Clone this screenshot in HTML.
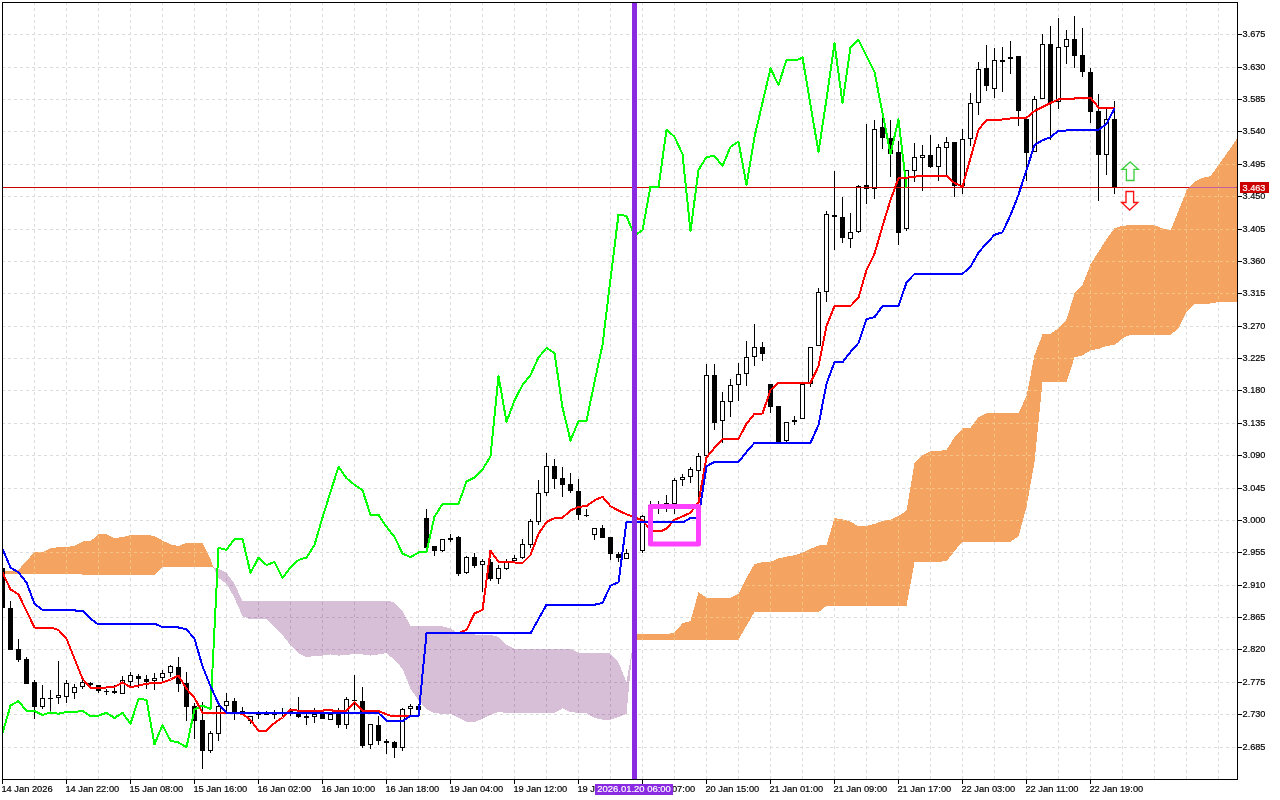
<!DOCTYPE html><html><head><meta charset="utf-8"><title>Chart</title>
<style>html,body{margin:0;padding:0;background:#fff;overflow:hidden}svg{display:block}text{font-family:"Liberation Sans",sans-serif;font-size:9.7px;fill:#000;stroke:#000;stroke-width:0.2px}</style></head><body>
<svg width="1280" height="800" viewBox="0 0 1280 800">
<rect width="1280" height="800" fill="#fff"/>
<defs>
<clipPath id="co"><polygon points="2.50,571.25 10.50,571.25 18.50,569.75 26.50,561.00 34.50,552.00 42.50,552.00 50.50,548.50 58.50,547.00 66.50,546.90 74.50,546.00 82.50,541.50 90.50,541.00 98.50,534.40 106.50,534.40 114.50,538.00 122.50,537.00 130.50,535.00 138.50,535.00 146.50,535.00 154.50,536.00 162.50,540.60 170.50,544.40 178.50,546.00 186.50,543.00 194.50,543.00 202.50,543.00 210.50,559.00 213.70,567.80 210.50,567.00 162.50,567.00 154.50,574.60 82.50,574.60 78.50,573.75 2.50,573.75"/><polygon points="632.70,646.50 634.50,633.50 670.50,633.50 674.50,632.20 682.50,623.40 690.50,621.00 698.50,592.25 706.50,597.90 714.50,597.90 722.50,597.90 730.50,597.90 738.50,594.00 746.50,577.80 754.50,564.00 762.50,562.25 770.50,561.90 778.50,558.50 786.50,556.60 794.50,555.30 802.50,552.90 810.50,548.75 818.50,545.50 826.50,545.30 834.50,518.00 842.50,519.40 850.50,521.60 858.50,526.40 866.50,525.90 874.50,524.00 882.50,521.00 890.50,519.60 898.50,516.00 906.50,510.50 914.50,463.25 922.50,455.40 930.50,451.00 938.50,451.00 946.50,449.75 954.50,437.40 962.50,428.40 970.50,427.70 978.50,417.00 986.50,413.30 1018.50,413.30 1026.50,396.00 1034.50,355.25 1042.50,334.30 1050.50,333.90 1058.50,328.25 1066.50,319.50 1074.50,293.50 1082.50,284.75 1090.50,264.50 1098.50,251.75 1106.50,239.00 1114.50,228.20 1122.50,225.80 1130.50,225.20 1154.50,225.20 1162.50,228.30 1170.50,230.50 1178.50,211.00 1186.50,190.50 1194.50,181.80 1202.50,177.75 1210.50,176.25 1218.50,165.00 1226.50,153.75 1234.50,142.50 1236.50,139.00 1236.50,302.00 1218.50,302.00 1210.50,303.50 1194.50,303.50 1186.50,311.75 1178.50,328.50 1170.50,334.60 1130.50,334.60 1122.50,338.40 1114.50,345.10 1106.50,345.80 1098.50,349.00 1090.50,350.30 1082.50,355.25 1074.50,357.50 1066.50,381.80 1042.50,382.25 1034.50,462.00 1026.50,507.00 1018.50,536.40 1010.50,541.60 962.50,541.60 954.50,550.90 946.50,561.40 914.50,562.25 906.50,605.60 826.50,605.80 818.50,612.10 754.50,612.10 746.50,625.60 738.50,639.70 634.50,639.70"/></clipPath>
<clipPath id="cp"><polygon points="213.70,567.80 218.50,568.75 226.50,573.00 234.50,583.75 242.50,601.25 390.50,601.25 394.50,602.50 402.50,611.25 410.50,626.00 442.50,626.40 450.50,628.50 458.50,633.40 466.50,634.00 474.50,634.50 482.50,634.80 490.50,635.00 498.50,637.00 506.50,644.70 514.50,649.00 570.50,649.00 578.50,652.75 610.50,653.50 618.50,662.50 626.50,682.00 632.70,646.50 626.50,714.00 618.50,716.90 610.50,719.70 602.50,719.70 594.50,717.80 586.50,713.50 578.50,713.00 570.50,712.00 562.50,708.40 554.50,713.00 506.50,713.00 498.50,712.00 490.50,715.00 482.50,718.75 474.50,722.00 466.50,722.00 458.50,717.60 450.50,713.90 442.50,713.75 434.50,713.25 426.50,709.00 418.50,700.00 410.50,688.75 402.50,668.75 394.50,660.00 386.50,653.00 378.50,654.40 370.50,655.60 362.50,654.40 354.50,653.75 346.50,655.00 338.50,655.60 330.50,654.40 322.50,655.60 314.50,656.00 306.50,657.25 298.50,653.00 290.50,645.00 282.50,635.00 274.50,627.00 266.50,619.40 258.50,619.40 250.50,619.40 242.50,616.25 234.50,598.00 226.50,583.75 218.50,578.00"/></clipPath>
<g id="grid" stroke-width="1" stroke-dasharray="3 3" shape-rendering="crispEdges"><line x1="2" x2="1237" y1="34.5" y2="34.5"/><line x1="2" x2="1237" y1="67.5" y2="67.5"/><line x1="2" x2="1237" y1="99.5" y2="99.5"/><line x1="2" x2="1237" y1="131.5" y2="131.5"/><line x1="2" x2="1237" y1="164.5" y2="164.5"/><line x1="2" x2="1237" y1="196.5" y2="196.5"/><line x1="2" x2="1237" y1="229.5" y2="229.5"/><line x1="2" x2="1237" y1="261.5" y2="261.5"/><line x1="2" x2="1237" y1="293.5" y2="293.5"/><line x1="2" x2="1237" y1="326.5" y2="326.5"/><line x1="2" x2="1237" y1="358.5" y2="358.5"/><line x1="2" x2="1237" y1="390.5" y2="390.5"/><line x1="2" x2="1237" y1="423.5" y2="423.5"/><line x1="2" x2="1237" y1="455.5" y2="455.5"/><line x1="2" x2="1237" y1="488.5" y2="488.5"/><line x1="2" x2="1237" y1="520.5" y2="520.5"/><line x1="2" x2="1237" y1="552.5" y2="552.5"/><line x1="2" x2="1237" y1="585.5" y2="585.5"/><line x1="2" x2="1237" y1="617.5" y2="617.5"/><line x1="2" x2="1237" y1="649.5" y2="649.5"/><line x1="2" x2="1237" y1="682.5" y2="682.5"/><line x1="2" x2="1237" y1="714.5" y2="714.5"/><line x1="2" x2="1237" y1="747.5" y2="747.5"/><line y1="2" y2="779" x1="34.5" x2="34.5"/><line y1="2" y2="779" x1="66.5" x2="66.5"/><line y1="2" y2="779" x1="98.5" x2="98.5"/><line y1="2" y2="779" x1="130.5" x2="130.5"/><line y1="2" y2="779" x1="162.5" x2="162.5"/><line y1="2" y2="779" x1="194.5" x2="194.5"/><line y1="2" y2="779" x1="226.5" x2="226.5"/><line y1="2" y2="779" x1="258.5" x2="258.5"/><line y1="2" y2="779" x1="290.5" x2="290.5"/><line y1="2" y2="779" x1="322.5" x2="322.5"/><line y1="2" y2="779" x1="354.5" x2="354.5"/><line y1="2" y2="779" x1="386.5" x2="386.5"/><line y1="2" y2="779" x1="418.5" x2="418.5"/><line y1="2" y2="779" x1="450.5" x2="450.5"/><line y1="2" y2="779" x1="482.5" x2="482.5"/><line y1="2" y2="779" x1="514.5" x2="514.5"/><line y1="2" y2="779" x1="546.5" x2="546.5"/><line y1="2" y2="779" x1="578.5" x2="578.5"/><line y1="2" y2="779" x1="610.5" x2="610.5"/><line y1="2" y2="779" x1="642.5" x2="642.5"/><line y1="2" y2="779" x1="674.5" x2="674.5"/><line y1="2" y2="779" x1="706.5" x2="706.5"/><line y1="2" y2="779" x1="738.5" x2="738.5"/><line y1="2" y2="779" x1="770.5" x2="770.5"/><line y1="2" y2="779" x1="802.5" x2="802.5"/><line y1="2" y2="779" x1="834.5" x2="834.5"/><line y1="2" y2="779" x1="866.5" x2="866.5"/><line y1="2" y2="779" x1="898.5" x2="898.5"/><line y1="2" y2="779" x1="930.5" x2="930.5"/><line y1="2" y2="779" x1="962.5" x2="962.5"/><line y1="2" y2="779" x1="994.5" x2="994.5"/><line y1="2" y2="779" x1="1026.5" x2="1026.5"/><line y1="2" y2="779" x1="1058.5" x2="1058.5"/><line y1="2" y2="779" x1="1090.5" x2="1090.5"/><line y1="2" y2="779" x1="1122.5" x2="1122.5"/><line y1="2" y2="779" x1="1154.5" x2="1154.5"/><line y1="2" y2="779" x1="1186.5" x2="1186.5"/><line y1="2" y2="779" x1="1218.5" x2="1218.5"/></g>
<clipPath id="cf"><rect x="3" y="3" width="1234" height="776"/></clipPath>
</defs>
<g clip-path="url(#cf)">
<use href="#grid" stroke="#dcdcdc"/>
<polygon points="2.50,571.25 10.50,571.25 18.50,569.75 26.50,561.00 34.50,552.00 42.50,552.00 50.50,548.50 58.50,547.00 66.50,546.90 74.50,546.00 82.50,541.50 90.50,541.00 98.50,534.40 106.50,534.40 114.50,538.00 122.50,537.00 130.50,535.00 138.50,535.00 146.50,535.00 154.50,536.00 162.50,540.60 170.50,544.40 178.50,546.00 186.50,543.00 194.50,543.00 202.50,543.00 210.50,559.00 213.70,567.80 210.50,567.00 162.50,567.00 154.50,574.60 82.50,574.60 78.50,573.75 2.50,573.75" fill="#f4a460" shape-rendering="crispEdges"/>
<polygon points="632.70,646.50 634.50,633.50 670.50,633.50 674.50,632.20 682.50,623.40 690.50,621.00 698.50,592.25 706.50,597.90 714.50,597.90 722.50,597.90 730.50,597.90 738.50,594.00 746.50,577.80 754.50,564.00 762.50,562.25 770.50,561.90 778.50,558.50 786.50,556.60 794.50,555.30 802.50,552.90 810.50,548.75 818.50,545.50 826.50,545.30 834.50,518.00 842.50,519.40 850.50,521.60 858.50,526.40 866.50,525.90 874.50,524.00 882.50,521.00 890.50,519.60 898.50,516.00 906.50,510.50 914.50,463.25 922.50,455.40 930.50,451.00 938.50,451.00 946.50,449.75 954.50,437.40 962.50,428.40 970.50,427.70 978.50,417.00 986.50,413.30 1018.50,413.30 1026.50,396.00 1034.50,355.25 1042.50,334.30 1050.50,333.90 1058.50,328.25 1066.50,319.50 1074.50,293.50 1082.50,284.75 1090.50,264.50 1098.50,251.75 1106.50,239.00 1114.50,228.20 1122.50,225.80 1130.50,225.20 1154.50,225.20 1162.50,228.30 1170.50,230.50 1178.50,211.00 1186.50,190.50 1194.50,181.80 1202.50,177.75 1210.50,176.25 1218.50,165.00 1226.50,153.75 1234.50,142.50 1236.50,139.00 1236.50,302.00 1218.50,302.00 1210.50,303.50 1194.50,303.50 1186.50,311.75 1178.50,328.50 1170.50,334.60 1130.50,334.60 1122.50,338.40 1114.50,345.10 1106.50,345.80 1098.50,349.00 1090.50,350.30 1082.50,355.25 1074.50,357.50 1066.50,381.80 1042.50,382.25 1034.50,462.00 1026.50,507.00 1018.50,536.40 1010.50,541.60 962.50,541.60 954.50,550.90 946.50,561.40 914.50,562.25 906.50,605.60 826.50,605.80 818.50,612.10 754.50,612.10 746.50,625.60 738.50,639.70 634.50,639.70" fill="#f4a460" shape-rendering="crispEdges"/>
<polygon points="213.70,567.80 218.50,568.75 226.50,573.00 234.50,583.75 242.50,601.25 390.50,601.25 394.50,602.50 402.50,611.25 410.50,626.00 442.50,626.40 450.50,628.50 458.50,633.40 466.50,634.00 474.50,634.50 482.50,634.80 490.50,635.00 498.50,637.00 506.50,644.70 514.50,649.00 570.50,649.00 578.50,652.75 610.50,653.50 618.50,662.50 626.50,682.00 632.70,646.50 626.50,714.00 618.50,716.90 610.50,719.70 602.50,719.70 594.50,717.80 586.50,713.50 578.50,713.00 570.50,712.00 562.50,708.40 554.50,713.00 506.50,713.00 498.50,712.00 490.50,715.00 482.50,718.75 474.50,722.00 466.50,722.00 458.50,717.60 450.50,713.90 442.50,713.75 434.50,713.25 426.50,709.00 418.50,700.00 410.50,688.75 402.50,668.75 394.50,660.00 386.50,653.00 378.50,654.40 370.50,655.60 362.50,654.40 354.50,653.75 346.50,655.00 338.50,655.60 330.50,654.40 322.50,655.60 314.50,656.00 306.50,657.25 298.50,653.00 290.50,645.00 282.50,635.00 274.50,627.00 266.50,619.40 258.50,619.40 250.50,619.40 242.50,616.25 234.50,598.00 226.50,583.75 218.50,578.00" fill="#d8bfd8" shape-rendering="crispEdges"/>
<g clip-path="url(#co)"><use href="#grid" stroke="#f3c486"/></g>
<g clip-path="url(#cp)"><use href="#grid" stroke="#bfa2c2"/></g>
<g fill="#000" shape-rendering="crispEdges"><rect x="2" y="568.00" width="1" height="40.00"/><rect x="0" y="568.00" width="5" height="40.00"/><rect x="10" y="601.00" width="1" height="49.00"/><rect x="8" y="608.00" width="5" height="42.00"/><rect x="18" y="639.00" width="1" height="23.00"/><rect x="16" y="649.00" width="5" height="11.00"/><rect x="26" y="657.00" width="1" height="27.00"/><rect x="24" y="659.00" width="5" height="25.00"/><rect x="34" y="680.00" width="1" height="39.00"/><rect x="32" y="682.00" width="5" height="25.00"/><rect x="42" y="685.00" width="1" height="24.00"/><rect x="40" y="698.00" width="5" height="9.00"/><rect x="41" y="699.00" width="3" height="7.00" fill="#fff"/><rect x="50" y="690.00" width="1" height="22.00"/><rect x="48" y="698" width="5" height="1"/><rect x="58" y="661.00" width="1" height="43.00"/><rect x="56" y="695.00" width="5" height="3.00"/><rect x="57" y="696.00" width="3" height="1.00" fill="#fff"/><rect x="66" y="680.00" width="1" height="23.00"/><rect x="64" y="683.00" width="5" height="14.00"/><rect x="65" y="684.00" width="3" height="12.00" fill="#fff"/><rect x="74" y="684.00" width="1" height="15.00"/><rect x="72" y="687.00" width="5" height="6.00"/><rect x="73" y="688.00" width="3" height="4.00" fill="#fff"/><rect x="82" y="680.00" width="1" height="9.00"/><rect x="80" y="682.00" width="5" height="5.00"/><rect x="81" y="683.00" width="3" height="3.00" fill="#fff"/><rect x="90" y="682.00" width="1" height="4.00"/><rect x="88" y="683.00" width="5" height="2.00"/><rect x="98" y="685.00" width="1" height="8.00"/><rect x="96" y="685.00" width="5" height="6.00"/><rect x="106" y="689.00" width="1" height="6.00"/><rect x="104" y="691" width="5" height="1"/><rect x="114" y="685.00" width="1" height="9.00"/><rect x="112" y="691.00" width="5" height="2.00"/><rect x="122" y="676.00" width="1" height="18.00"/><rect x="120" y="680.00" width="5" height="14.00"/><rect x="121" y="681.00" width="3" height="12.00" fill="#fff"/><rect x="130" y="672.00" width="1" height="16.00"/><rect x="128" y="675.00" width="5" height="7.00"/><rect x="129" y="676.00" width="3" height="5.00" fill="#fff"/><rect x="138" y="674.00" width="1" height="14.00"/><rect x="136" y="676.00" width="5" height="3.00"/><rect x="146" y="675.00" width="1" height="14.00"/><rect x="144" y="679.00" width="5" height="3.00"/><rect x="154" y="673.00" width="1" height="17.00"/><rect x="152" y="678.00" width="5" height="3.00"/><rect x="153" y="679.00" width="3" height="1.00" fill="#fff"/><rect x="162" y="670.00" width="1" height="11.00"/><rect x="160" y="673.00" width="5" height="5.00"/><rect x="161" y="674.00" width="3" height="3.00" fill="#fff"/><rect x="170" y="665.00" width="1" height="12.00"/><rect x="168" y="666.00" width="5" height="7.00"/><rect x="169" y="667.00" width="3" height="5.00" fill="#fff"/><rect x="178" y="657.00" width="1" height="35.00"/><rect x="176" y="667.00" width="5" height="17.00"/><rect x="186" y="672.00" width="1" height="49.00"/><rect x="184" y="683.00" width="5" height="24.00"/><rect x="194" y="703.00" width="1" height="36.00"/><rect x="192" y="706.00" width="5" height="15.00"/><rect x="202" y="702.00" width="1" height="67.00"/><rect x="200" y="720.00" width="5" height="31.00"/><rect x="210" y="731.00" width="1" height="22.00"/><rect x="208" y="733.00" width="5" height="18.00"/><rect x="209" y="734.00" width="3" height="16.00" fill="#fff"/><rect x="218" y="701.00" width="1" height="40.00"/><rect x="216" y="706.00" width="5" height="28.00"/><rect x="217" y="707.00" width="3" height="26.00" fill="#fff"/><rect x="226" y="693.00" width="1" height="20.00"/><rect x="224" y="701.00" width="5" height="5.00"/><rect x="225" y="702.00" width="3" height="3.00" fill="#fff"/><rect x="234" y="698.00" width="1" height="22.00"/><rect x="232" y="701.00" width="5" height="12.00"/><rect x="242" y="707.00" width="1" height="8.00"/><rect x="240" y="711.00" width="5" height="2.00"/><rect x="250" y="716.00" width="1" height="8.00"/><rect x="248" y="716.00" width="5" height="5.00"/><rect x="249" y="717.00" width="3" height="3.00" fill="#fff"/><rect x="258" y="711.00" width="1" height="8.00"/><rect x="256" y="713.00" width="5" height="2.00"/><rect x="266" y="711.00" width="1" height="4.00"/><rect x="264" y="713.00" width="5" height="2.00"/><rect x="274" y="710.00" width="1" height="9.00"/><rect x="272" y="713.00" width="5" height="2.00"/><rect x="282" y="708.00" width="1" height="8.00"/><rect x="280" y="712.00" width="5" height="2.00"/><rect x="290" y="708.00" width="1" height="8.00"/><rect x="288" y="711.00" width="5" height="3.00"/><rect x="289" y="712.00" width="3" height="1.00" fill="#fff"/><rect x="298" y="697.00" width="1" height="21.00"/><rect x="296" y="713.00" width="5" height="4.00"/><rect x="306" y="714.00" width="1" height="11.00"/><rect x="304" y="716.00" width="5" height="2.00"/><rect x="314" y="708.00" width="1" height="15.00"/><rect x="312" y="714.00" width="5" height="3.00"/><rect x="313" y="715.00" width="3" height="1.00" fill="#fff"/><rect x="322" y="714.00" width="1" height="5.00"/><rect x="320" y="714.00" width="5" height="5.00"/><rect x="330" y="714.00" width="1" height="6.00"/><rect x="328" y="714.00" width="5" height="6.00"/><rect x="329" y="715.00" width="3" height="4.00" fill="#fff"/><rect x="338" y="708.00" width="1" height="20.00"/><rect x="336" y="714.00" width="5" height="11.00"/><rect x="346" y="697.00" width="1" height="32.00"/><rect x="344" y="699.00" width="5" height="26.00"/><rect x="345" y="700.00" width="3" height="24.00" fill="#fff"/><rect x="354" y="675.00" width="1" height="35.00"/><rect x="352" y="700" width="5" height="1"/><rect x="362" y="687.00" width="1" height="61.00"/><rect x="360" y="701.00" width="5" height="45.00"/><rect x="370" y="724.00" width="1" height="25.00"/><rect x="368" y="724.00" width="5" height="21.00"/><rect x="369" y="725.00" width="3" height="19.00" fill="#fff"/><rect x="378" y="716.00" width="1" height="29.00"/><rect x="376" y="725.00" width="5" height="16.00"/><rect x="386" y="739.00" width="1" height="15.00"/><rect x="384" y="741.00" width="5" height="2.00"/><rect x="394" y="741.00" width="1" height="17.00"/><rect x="392" y="742.00" width="5" height="6.00"/><rect x="402" y="708.00" width="1" height="43.00"/><rect x="400" y="709.00" width="5" height="39.00"/><rect x="401" y="710.00" width="3" height="37.00" fill="#fff"/><rect x="410" y="704.00" width="1" height="12.00"/><rect x="408" y="706.00" width="5" height="3.00"/><rect x="409" y="707.00" width="3" height="1.00" fill="#fff"/><rect x="418" y="704.00" width="1" height="6.00"/><rect x="416" y="706.00" width="5" height="4.00"/><rect x="426" y="509.00" width="1" height="39.00"/><rect x="424" y="518.00" width="5" height="30.00"/><rect x="434" y="546.00" width="1" height="10.00"/><rect x="432" y="546.00" width="5" height="5.00"/><rect x="442" y="539.00" width="1" height="13.00"/><rect x="440" y="539.00" width="5" height="12.00"/><rect x="441" y="540.00" width="3" height="10.00" fill="#fff"/><rect x="450" y="534.00" width="1" height="8.00"/><rect x="448" y="538.00" width="5" height="2.00"/><rect x="458" y="536.00" width="1" height="40.00"/><rect x="456" y="537.00" width="5" height="37.00"/><rect x="466" y="556.00" width="1" height="18.00"/><rect x="464" y="557.00" width="5" height="16.00"/><rect x="465" y="558.00" width="3" height="14.00" fill="#fff"/><rect x="474" y="553.00" width="1" height="15.00"/><rect x="472" y="557.00" width="5" height="9.00"/><rect x="482" y="559.00" width="1" height="33.00"/><rect x="480" y="561.00" width="5" height="4.00"/><rect x="481" y="562.00" width="3" height="2.00" fill="#fff"/><rect x="490" y="559.00" width="1" height="22.00"/><rect x="488" y="562.00" width="5" height="17.00"/><rect x="498" y="565.00" width="1" height="19.00"/><rect x="496" y="568.00" width="5" height="11.00"/><rect x="497" y="569.00" width="3" height="9.00" fill="#fff"/><rect x="506" y="559.00" width="1" height="11.00"/><rect x="504" y="561.00" width="5" height="8.00"/><rect x="505" y="562.00" width="3" height="6.00" fill="#fff"/><rect x="514" y="555.00" width="1" height="6.00"/><rect x="512" y="558.00" width="5" height="3.00"/><rect x="513" y="559.00" width="3" height="1.00" fill="#fff"/><rect x="522" y="539.00" width="1" height="20.00"/><rect x="520" y="544.00" width="5" height="14.00"/><rect x="521" y="545.00" width="3" height="12.00" fill="#fff"/><rect x="530" y="519.00" width="1" height="29.00"/><rect x="528" y="521.00" width="5" height="24.00"/><rect x="529" y="522.00" width="3" height="22.00" fill="#fff"/><rect x="538" y="480.00" width="1" height="45.00"/><rect x="536" y="493.00" width="5" height="29.00"/><rect x="537" y="494.00" width="3" height="27.00" fill="#fff"/><rect x="546" y="453.00" width="1" height="43.00"/><rect x="544" y="466.00" width="5" height="27.00"/><rect x="545" y="467.00" width="3" height="25.00" fill="#fff"/><rect x="554" y="459.00" width="1" height="30.00"/><rect x="552" y="466.00" width="5" height="13.00"/><rect x="562" y="467.00" width="1" height="30.00"/><rect x="560" y="478.00" width="5" height="7.00"/><rect x="570" y="473.00" width="1" height="20.00"/><rect x="568" y="484.00" width="5" height="7.00"/><rect x="578" y="479.00" width="1" height="41.00"/><rect x="576" y="491.00" width="5" height="24.00"/><rect x="586" y="509.00" width="1" height="8.00"/><rect x="584" y="515" width="5" height="1"/><rect x="594" y="528.00" width="1" height="12.00"/><rect x="592" y="528.00" width="5" height="7.00"/><rect x="593" y="529.00" width="3" height="5.00" fill="#fff"/><rect x="602" y="525.00" width="1" height="13.00"/><rect x="600" y="528.00" width="5" height="10.00"/><rect x="610" y="537.00" width="1" height="23.00"/><rect x="608" y="537.00" width="5" height="17.00"/><rect x="618" y="552.00" width="1" height="10.00"/><rect x="616" y="554.00" width="5" height="4.00"/><rect x="626" y="549.00" width="1" height="10.00"/><rect x="624" y="553.00" width="5" height="6.00"/><rect x="625" y="554.00" width="3" height="4.00" fill="#fff"/><rect x="642" y="515.00" width="1" height="38.00"/><rect x="640" y="516.00" width="5" height="35.00"/><rect x="641" y="517.00" width="3" height="33.00" fill="#fff"/><rect x="650" y="501.00" width="1" height="7.00"/><rect x="648" y="505" width="5" height="1"/><rect x="658" y="501.00" width="1" height="13.00"/><rect x="656" y="504" width="5" height="1"/><rect x="666" y="495.00" width="1" height="17.00"/><rect x="664" y="503" width="5" height="1"/><rect x="674" y="478.00" width="1" height="36.00"/><rect x="672" y="480.00" width="5" height="24.00"/><rect x="673" y="481.00" width="3" height="22.00" fill="#fff"/><rect x="682" y="474.00" width="1" height="12.00"/><rect x="680" y="477.00" width="5" height="3.00"/><rect x="681" y="478.00" width="3" height="1.00" fill="#fff"/><rect x="690" y="467.00" width="1" height="16.00"/><rect x="688" y="469.00" width="5" height="8.00"/><rect x="689" y="470.00" width="3" height="6.00" fill="#fff"/><rect x="698" y="453.00" width="1" height="45.00"/><rect x="696" y="456.00" width="5" height="15.00"/><rect x="697" y="457.00" width="3" height="13.00" fill="#fff"/><rect x="706" y="364.00" width="1" height="93.00"/><rect x="704" y="375.00" width="5" height="81.00"/><rect x="705" y="376.00" width="3" height="79.00" fill="#fff"/><rect x="714" y="364.00" width="1" height="66.00"/><rect x="712" y="375.00" width="5" height="48.00"/><rect x="722" y="392.00" width="1" height="51.00"/><rect x="720" y="401.00" width="5" height="20.00"/><rect x="721" y="402.00" width="3" height="18.00" fill="#fff"/><rect x="730" y="379.00" width="1" height="38.00"/><rect x="728" y="385.00" width="5" height="17.00"/><rect x="729" y="386.00" width="3" height="15.00" fill="#fff"/><rect x="738" y="363.00" width="1" height="38.00"/><rect x="736" y="374.00" width="5" height="11.00"/><rect x="737" y="375.00" width="3" height="9.00" fill="#fff"/><rect x="746" y="341.00" width="1" height="45.00"/><rect x="744" y="357.00" width="5" height="17.00"/><rect x="745" y="358.00" width="3" height="15.00" fill="#fff"/><rect x="754" y="324.00" width="1" height="42.00"/><rect x="752" y="347.00" width="5" height="10.00"/><rect x="753" y="348.00" width="3" height="8.00" fill="#fff"/><rect x="762" y="342.00" width="1" height="19.00"/><rect x="760" y="347.00" width="5" height="7.00"/><rect x="770" y="384.00" width="1" height="29.00"/><rect x="768" y="384.00" width="5" height="23.00"/><rect x="778" y="406.00" width="1" height="37.00"/><rect x="776" y="406.00" width="5" height="37.00"/><rect x="786" y="422.00" width="1" height="20.00"/><rect x="784" y="422.00" width="5" height="19.00"/><rect x="785" y="423.00" width="3" height="17.00" fill="#fff"/><rect x="794" y="416.00" width="1" height="9.00"/><rect x="792" y="420.00" width="5" height="2.00"/><rect x="802" y="384.00" width="1" height="35.00"/><rect x="800" y="384.00" width="5" height="35.00"/><rect x="801" y="385.00" width="3" height="33.00" fill="#fff"/><rect x="810" y="347.00" width="1" height="40.00"/><rect x="808" y="347.00" width="5" height="37.00"/><rect x="809" y="348.00" width="3" height="35.00" fill="#fff"/><rect x="818" y="288.00" width="1" height="58.00"/><rect x="816" y="292.00" width="5" height="54.00"/><rect x="817" y="293.00" width="3" height="52.00" fill="#fff"/><rect x="826" y="211.00" width="1" height="91.00"/><rect x="824" y="214.00" width="5" height="78.00"/><rect x="825" y="215.00" width="3" height="76.00" fill="#fff"/><rect x="834" y="171.00" width="1" height="79.00"/><rect x="832" y="215.00" width="5" height="2.00"/><rect x="842" y="197.00" width="1" height="46.00"/><rect x="840" y="217.00" width="5" height="21.00"/><rect x="850" y="213.00" width="1" height="35.00"/><rect x="848" y="232.00" width="5" height="7.00"/><rect x="849" y="233.00" width="3" height="5.00" fill="#fff"/><rect x="858" y="185.00" width="1" height="48.00"/><rect x="856" y="186.00" width="5" height="46.00"/><rect x="857" y="187.00" width="3" height="44.00" fill="#fff"/><rect x="866" y="124.00" width="1" height="80.00"/><rect x="864" y="185.00" width="5" height="4.00"/><rect x="874" y="120.00" width="1" height="79.00"/><rect x="872" y="129.00" width="5" height="60.00"/><rect x="873" y="130.00" width="3" height="58.00" fill="#fff"/><rect x="882" y="117.00" width="1" height="32.00"/><rect x="880" y="127.00" width="5" height="11.00"/><rect x="890" y="120.00" width="1" height="57.00"/><rect x="888" y="138.00" width="5" height="16.00"/><rect x="898" y="141.00" width="1" height="104.00"/><rect x="896" y="152.00" width="5" height="81.00"/><rect x="906" y="170.00" width="1" height="61.00"/><rect x="904" y="170.00" width="5" height="59.00"/><rect x="905" y="171.00" width="3" height="57.00" fill="#fff"/><rect x="914" y="143.00" width="1" height="39.00"/><rect x="912" y="157.00" width="5" height="14.00"/><rect x="913" y="158.00" width="3" height="12.00" fill="#fff"/><rect x="922" y="145.00" width="1" height="46.00"/><rect x="920" y="155.00" width="5" height="3.00"/><rect x="921" y="156.00" width="3" height="1.00" fill="#fff"/><rect x="930" y="135.00" width="1" height="33.00"/><rect x="928" y="155.00" width="5" height="12.00"/><rect x="938" y="144.00" width="1" height="37.00"/><rect x="936" y="147.00" width="5" height="20.00"/><rect x="937" y="148.00" width="3" height="18.00" fill="#fff"/><rect x="946" y="137.00" width="1" height="39.00"/><rect x="944" y="142.00" width="5" height="6.00"/><rect x="945" y="143.00" width="3" height="4.00" fill="#fff"/><rect x="954" y="142.00" width="1" height="55.00"/><rect x="952" y="142.00" width="5" height="44.00"/><rect x="962" y="129.00" width="1" height="65.00"/><rect x="960" y="139.00" width="5" height="47.00"/><rect x="961" y="140.00" width="3" height="45.00" fill="#fff"/><rect x="970" y="93.00" width="1" height="53.00"/><rect x="968" y="103.00" width="5" height="36.00"/><rect x="969" y="104.00" width="3" height="34.00" fill="#fff"/><rect x="978" y="62.00" width="1" height="53.00"/><rect x="976" y="69.00" width="5" height="34.00"/><rect x="977" y="70.00" width="3" height="32.00" fill="#fff"/><rect x="986" y="45.00" width="1" height="46.00"/><rect x="984" y="68.00" width="5" height="18.00"/><rect x="994" y="48.00" width="1" height="50.00"/><rect x="992" y="60.00" width="5" height="29.00"/><rect x="993" y="61.00" width="3" height="27.00" fill="#fff"/><rect x="1002" y="47.00" width="1" height="45.00"/><rect x="1000" y="60.00" width="5" height="2.00"/><rect x="1010" y="41.00" width="1" height="33.00"/><rect x="1008" y="57.00" width="5" height="2.00"/><rect x="1018" y="56.00" width="1" height="70.00"/><rect x="1016" y="56.00" width="5" height="55.00"/><rect x="1026" y="119.00" width="1" height="62.00"/><rect x="1024" y="119.00" width="5" height="34.00"/><rect x="1034" y="96.00" width="1" height="56.00"/><rect x="1032" y="99.00" width="5" height="53.00"/><rect x="1033" y="100.00" width="3" height="51.00" fill="#fff"/><rect x="1042" y="34.00" width="1" height="65.00"/><rect x="1040" y="44.00" width="5" height="55.00"/><rect x="1041" y="45.00" width="3" height="53.00" fill="#fff"/><rect x="1050" y="26.00" width="1" height="114.00"/><rect x="1048" y="44.00" width="5" height="59.00"/><rect x="1058" y="18.00" width="1" height="91.00"/><rect x="1056" y="47.00" width="5" height="55.00"/><rect x="1057" y="48.00" width="3" height="53.00" fill="#fff"/><rect x="1066" y="30.00" width="1" height="34.00"/><rect x="1064" y="39.00" width="5" height="8.00"/><rect x="1065" y="40.00" width="3" height="6.00" fill="#fff"/><rect x="1074" y="16.00" width="1" height="52.00"/><rect x="1072" y="39.00" width="5" height="17.00"/><rect x="1082" y="28.00" width="1" height="49.00"/><rect x="1080" y="55.00" width="5" height="17.00"/><rect x="1090" y="68.00" width="1" height="55.00"/><rect x="1088" y="72.00" width="5" height="40.00"/><rect x="1098" y="94.00" width="1" height="107.00"/><rect x="1096" y="111.00" width="5" height="44.00"/><rect x="1106" y="109.00" width="1" height="66.00"/><rect x="1104" y="119.00" width="5" height="36.00"/><rect x="1105" y="120.00" width="3" height="34.00" fill="#fff"/><rect x="1114" y="101.00" width="1" height="93.00"/><rect x="1112" y="119.00" width="5" height="69.00"/></g>
<line x1="3" x2="1237" y1="187.5" y2="187.5" stroke="#cc0000" stroke-width="1" shape-rendering="crispEdges"/>
<g clip-path="url(#co)"><line x1="3" x2="1237" y1="187.5" y2="187.5" stroke="#c060a0" stroke-width="1" shape-rendering="crispEdges"/></g>
<polyline points="2.50,733.00 10.50,705.60 18.50,701.00 26.50,711.00 34.50,711.00 42.50,715.00 50.50,712.50 58.50,713.75 66.50,712.00 74.50,712.00 82.50,711.00 90.50,716.00 98.50,715.60 106.50,712.75 114.50,718.00 122.50,712.75 130.50,723.75 138.50,699.00 146.50,699.75 154.50,744.40 162.50,725.00 170.50,740.60 178.50,742.50 186.50,747.25 194.50,709.40 202.50,705.60 210.50,709.00 218.50,548.00 226.50,549.75 234.50,539.00 242.50,539.00 250.50,573.00 258.50,557.75 266.50,565.00 274.50,562.00 282.50,578.00 290.50,567.50 298.50,560.00 306.50,557.50 314.50,545.00 322.50,517.50 330.50,492.00 338.50,466.80 346.50,478.20 354.50,484.80 362.50,490.20 370.50,514.80 378.50,514.80 386.50,526.80 394.50,537.00 402.50,553.50 410.50,557.25 418.50,552.50 426.50,552.00 434.50,516.50 442.50,504.00 450.50,504.00 458.50,504.00 466.50,481.50 474.50,477.40 482.50,469.50 490.50,456.40 498.50,375.90 506.50,421.90 514.50,400.40 522.50,385.00 530.50,375.00 538.50,357.50 546.50,347.90 554.50,353.00 562.50,407.40 570.50,440.60 578.50,420.90 586.50,420.90 594.50,382.00 602.50,345.00 610.50,279.00 618.50,214.60 626.50,216.00 634.50,235.60 642.50,230.20 650.50,186.60 658.50,187.50 666.50,129.75 674.50,136.75 682.50,154.25 690.50,231.25 698.50,170.00 706.50,156.90 714.50,156.00 722.50,166.00 730.50,146.90 738.50,141.60 746.50,184.90 754.50,137.00 762.50,102.60 770.50,68.50 778.50,85.00 786.50,60.00 797.50,59.80 802.50,57.50 810.50,105.00 818.50,152.00 826.50,99.00 834.50,43.50 842.50,103.00 850.50,47.50 858.50,39.75 866.50,56.00 874.50,72.00 882.50,113.00 890.50,153.75 898.50,119.50 906.50,187.50" fill="none" stroke="#00ff00" stroke-width="2" stroke-linejoin="round" shape-rendering="crispEdges"/>
<polyline points="2.50,572.50 10.50,589.40 18.50,594.40 26.50,611.00 34.50,627.50 42.50,627.50 50.50,627.50 58.50,630.00 66.50,638.75 74.50,658.75 82.50,678.75 90.50,688.00 98.50,688.50 106.50,687.50 114.50,686.90 122.50,682.50 130.50,687.25 138.50,685.60 146.50,683.75 154.50,683.00 162.50,682.50 170.50,679.50 178.50,675.60 186.50,688.75 194.50,698.00 202.50,712.75 210.50,712.75 218.50,712.75 226.50,712.75 234.50,713.00 242.50,713.75 250.50,720.00 258.50,730.60 266.50,730.60 274.50,723.00 282.50,717.50 290.50,709.50 294.50,709.50 298.50,711.25 306.50,711.00 314.50,711.00 322.50,711.00 324.50,710.00 330.50,710.00 334.50,711.00 338.50,711.00 346.50,711.00 354.50,701.90 362.50,710.80 370.50,711.00 378.50,711.00 386.50,714.40 391.50,716.00 394.50,716.00 402.50,716.00 410.50,716.00 418.50,716.00 426.50,633.40 434.50,633.40 442.50,633.40 450.50,633.40 458.50,633.00 466.50,630.00 474.50,613.40 482.50,610.00 490.50,550.60 498.50,562.00 506.50,562.00 514.50,562.00 515.50,563.00 522.50,563.00 530.50,555.00 538.50,533.75 546.50,522.00 554.50,518.20 562.50,517.70 570.50,510.50 578.50,506.80 586.50,506.20 594.50,500.30 602.50,496.80 610.50,506.20 618.50,510.60 626.50,514.30 634.50,517.20 642.50,520.50 650.50,529.50 653.50,530.90 661.50,530.90 666.50,528.50 674.50,519.70 682.50,516.40 690.50,512.70 698.50,502.50 706.50,457.50 714.50,447.75 722.50,439.00 730.50,439.00 738.50,439.00 746.50,423.75 754.50,413.75 762.50,413.50 770.50,390.00 778.50,382.50 810.50,382.50 818.50,366.25 826.50,326.25 834.50,306.00 842.50,306.00 850.50,306.00 858.50,297.75 866.50,270.00 874.50,253.75 882.50,226.25 890.50,200.00 898.50,178.00 906.50,177.75 922.50,175.60 946.50,175.60 954.50,183.00 962.50,186.50 970.50,158.00 978.50,129.75 986.50,120.00 1002.50,119.50 1010.50,118.50 1026.50,117.75 1034.50,111.00 1042.50,107.00 1050.50,103.00 1058.50,99.50 1074.50,99.00 1075.50,97.75 1090.50,97.75 1098.50,107.50 1114.50,107.50" fill="none" stroke="#ff0000" stroke-width="2" stroke-linejoin="round" shape-rendering="crispEdges"/>
<polyline points="2.50,548.75 10.50,567.50 18.50,572.50 26.50,582.50 34.50,603.75 42.50,609.75 74.50,609.75 75.50,610.60 82.50,610.60 90.50,618.75 97.50,623.75 154.50,623.75 162.50,627.00 170.50,627.00 178.50,627.50 186.50,629.40 194.50,638.75 202.50,666.25 210.50,686.25 218.50,703.75 226.50,712.75 378.50,713.00 386.50,720.60 403.50,720.60 410.50,716.00 418.50,716.00 426.50,633.40 530.50,633.40 538.50,619.00 546.50,604.75 594.50,604.75 602.50,603.00 610.50,585.60 618.50,582.25 626.50,522.00 683.50,522.00 690.50,518.00 698.50,517.75 706.50,466.25 714.50,461.90 738.50,461.90 746.50,452.00 754.50,442.75 810.50,442.75 818.50,425.00 826.50,383.75 834.50,362.25 842.50,362.25 850.50,351.90 858.50,343.00 866.50,319.00 874.50,317.25 882.50,306.00 898.50,306.00 906.50,282.50 914.50,273.90 962.50,273.75 970.50,266.75 978.50,252.50 986.50,243.50 994.50,234.80 1002.50,232.25 1010.50,215.00 1018.50,194.75 1026.50,170.00 1034.50,145.00 1042.50,140.25 1050.50,137.25 1058.50,130.60 1074.50,130.40 1098.50,130.00 1106.50,123.75 1114.50,108.50" fill="none" stroke="#0000ff" stroke-width="2" stroke-linejoin="round" shape-rendering="crispEdges"/>
<rect x="632" y="3" width="5" height="776" fill="#8a2be2"/>
<rect x="650.5" y="506.5" width="48" height="37.5" fill="none" stroke="#ff40ff" stroke-width="5" stroke-linejoin="round"/>
<polygon points="1130.2,162 1138.3,169.3 1134,169.3 1134,180.5 1126.4,180.5 1126.4,169.3 1122,169.3" fill="#fff" stroke="#3ccf3c" stroke-width="1.35"/>
<polygon points="1129.7,210 1137.8,202.5 1133.6,202.5 1133.6,191.5 1126,191.5 1126,202.5 1121.6,202.5" fill="#fff" stroke="#ff1010" stroke-width="1.35"/>
</g>
<g stroke="#000" stroke-width="1" shape-rendering="crispEdges" fill="none">
<line x1="2.5" y1="2" x2="2.5" y2="780"/><line x1="2" y1="2.5" x2="1238" y2="2.5"/><line x1="1237.5" y1="2" x2="1237.5" y2="780"/><line x1="2" y1="779.5" x2="1238" y2="779.5"/>
<line x1="1238" x2="1242" y1="34.5" y2="34.5"/>
<line x1="1238" x2="1242" y1="67.5" y2="67.5"/>
<line x1="1238" x2="1242" y1="99.5" y2="99.5"/>
<line x1="1238" x2="1242" y1="131.5" y2="131.5"/>
<line x1="1238" x2="1242" y1="164.5" y2="164.5"/>
<line x1="1238" x2="1242" y1="196.5" y2="196.5"/>
<line x1="1238" x2="1242" y1="229.5" y2="229.5"/>
<line x1="1238" x2="1242" y1="261.5" y2="261.5"/>
<line x1="1238" x2="1242" y1="293.5" y2="293.5"/>
<line x1="1238" x2="1242" y1="326.5" y2="326.5"/>
<line x1="1238" x2="1242" y1="358.5" y2="358.5"/>
<line x1="1238" x2="1242" y1="390.5" y2="390.5"/>
<line x1="1238" x2="1242" y1="423.5" y2="423.5"/>
<line x1="1238" x2="1242" y1="455.5" y2="455.5"/>
<line x1="1238" x2="1242" y1="488.5" y2="488.5"/>
<line x1="1238" x2="1242" y1="520.5" y2="520.5"/>
<line x1="1238" x2="1242" y1="552.5" y2="552.5"/>
<line x1="1238" x2="1242" y1="585.5" y2="585.5"/>
<line x1="1238" x2="1242" y1="617.5" y2="617.5"/>
<line x1="1238" x2="1242" y1="649.5" y2="649.5"/>
<line x1="1238" x2="1242" y1="682.5" y2="682.5"/>
<line x1="1238" x2="1242" y1="714.5" y2="714.5"/>
<line x1="1238" x2="1242" y1="747.5" y2="747.5"/>
<line x1="2.5" x2="2.5" y1="780" y2="784"/>
<line x1="66.5" x2="66.5" y1="780" y2="784"/>
<line x1="130.5" x2="130.5" y1="780" y2="784"/>
<line x1="194.5" x2="194.5" y1="780" y2="784"/>
<line x1="258.5" x2="258.5" y1="780" y2="784"/>
<line x1="322.5" x2="322.5" y1="780" y2="784"/>
<line x1="386.5" x2="386.5" y1="780" y2="784"/>
<line x1="450.5" x2="450.5" y1="780" y2="784"/>
<line x1="514.5" x2="514.5" y1="780" y2="784"/>
<line x1="578.5" x2="578.5" y1="780" y2="784"/>
<line x1="642.5" x2="642.5" y1="780" y2="784"/>
<line x1="706.5" x2="706.5" y1="780" y2="784"/>
<line x1="770.5" x2="770.5" y1="780" y2="784"/>
<line x1="834.5" x2="834.5" y1="780" y2="784"/>
<line x1="898.5" x2="898.5" y1="780" y2="784"/>
<line x1="962.5" x2="962.5" y1="780" y2="784"/>
<line x1="1026.5" x2="1026.5" y1="780" y2="784"/>
<line x1="1090.5" x2="1090.5" y1="780" y2="784"/>
</g>
<g style="opacity:0.999">
<text transform="translate(1242.6,37.3) scale(0.943,1)">3.675</text>
<text transform="translate(1242.6,70.3) scale(0.943,1)">3.630</text>
<text transform="translate(1242.6,102.3) scale(0.943,1)">3.585</text>
<text transform="translate(1242.6,134.3) scale(0.943,1)">3.540</text>
<text transform="translate(1242.6,167.3) scale(0.943,1)">3.495</text>
<text transform="translate(1242.6,199.3) scale(0.943,1)">3.450</text>
<text transform="translate(1242.6,232.3) scale(0.943,1)">3.405</text>
<text transform="translate(1242.6,264.3) scale(0.943,1)">3.360</text>
<text transform="translate(1242.6,296.3) scale(0.943,1)">3.315</text>
<text transform="translate(1242.6,329.3) scale(0.943,1)">3.270</text>
<text transform="translate(1242.6,361.3) scale(0.943,1)">3.225</text>
<text transform="translate(1242.6,393.3) scale(0.943,1)">3.180</text>
<text transform="translate(1242.6,426.3) scale(0.943,1)">3.135</text>
<text transform="translate(1242.6,458.3) scale(0.943,1)">3.090</text>
<text transform="translate(1242.6,491.3) scale(0.943,1)">3.045</text>
<text transform="translate(1242.6,523.3) scale(0.943,1)">3.000</text>
<text transform="translate(1242.6,555.3) scale(0.943,1)">2.955</text>
<text transform="translate(1242.6,588.3) scale(0.943,1)">2.910</text>
<text transform="translate(1242.6,620.3) scale(0.943,1)">2.865</text>
<text transform="translate(1242.6,652.3) scale(0.943,1)">2.820</text>
<text transform="translate(1242.6,685.3) scale(0.943,1)">2.775</text>
<text transform="translate(1242.6,717.3) scale(0.943,1)">2.730</text>
<text transform="translate(1242.6,750.3) scale(0.943,1)">2.685</text>
<text transform="translate(1.4,792) scale(0.961,1)">14 Jan 2026</text>
<text transform="translate(65.4,792) scale(0.961,1)">14 Jan 22:00</text>
<text transform="translate(129.4,792) scale(0.961,1)">15 Jan 08:00</text>
<text transform="translate(193.4,792) scale(0.961,1)">15 Jan 16:00</text>
<text transform="translate(257.4,792) scale(0.961,1)">16 Jan 02:00</text>
<text transform="translate(321.4,792) scale(0.961,1)">16 Jan 10:00</text>
<text transform="translate(385.4,792) scale(0.961,1)">16 Jan 18:00</text>
<text transform="translate(449.4,792) scale(0.961,1)">19 Jan 04:00</text>
<text transform="translate(513.4,792) scale(0.961,1)">19 Jan 12:00</text>
<text transform="translate(577.4,792) scale(0.961,1)">19 Jan 20:00</text>
<text transform="translate(641.4,792) scale(0.961,1)">20 Jan 07:00</text>
<text transform="translate(705.4,792) scale(0.961,1)">20 Jan 15:00</text>
<text transform="translate(769.4,792) scale(0.961,1)">21 Jan 01:00</text>
<text transform="translate(833.4,792) scale(0.961,1)">21 Jan 09:00</text>
<text transform="translate(897.4,792) scale(0.961,1)">21 Jan 17:00</text>
<text transform="translate(961.4,792) scale(0.961,1)">22 Jan 03:00</text>
<text transform="translate(1025.4,792) scale(0.961,1)">22 Jan 11:00</text>
<text transform="translate(1089.4,792) scale(0.961,1)">22 Jan 19:00</text>
<rect x="595" y="784" width="78" height="11" fill="#8a2be2"/>
<text transform="translate(597.3,792.3) scale(0.974,1)" style="fill:#fff;stroke:#fff">2026.01.20 06:00</text>
<rect x="1240" y="182" width="29" height="11" fill="#cc0000"/>
<text transform="translate(1242.6,190.9) scale(0.943,1)" style="fill:#fff;stroke:#fff">3.463</text>
</g>
</svg></body></html>
